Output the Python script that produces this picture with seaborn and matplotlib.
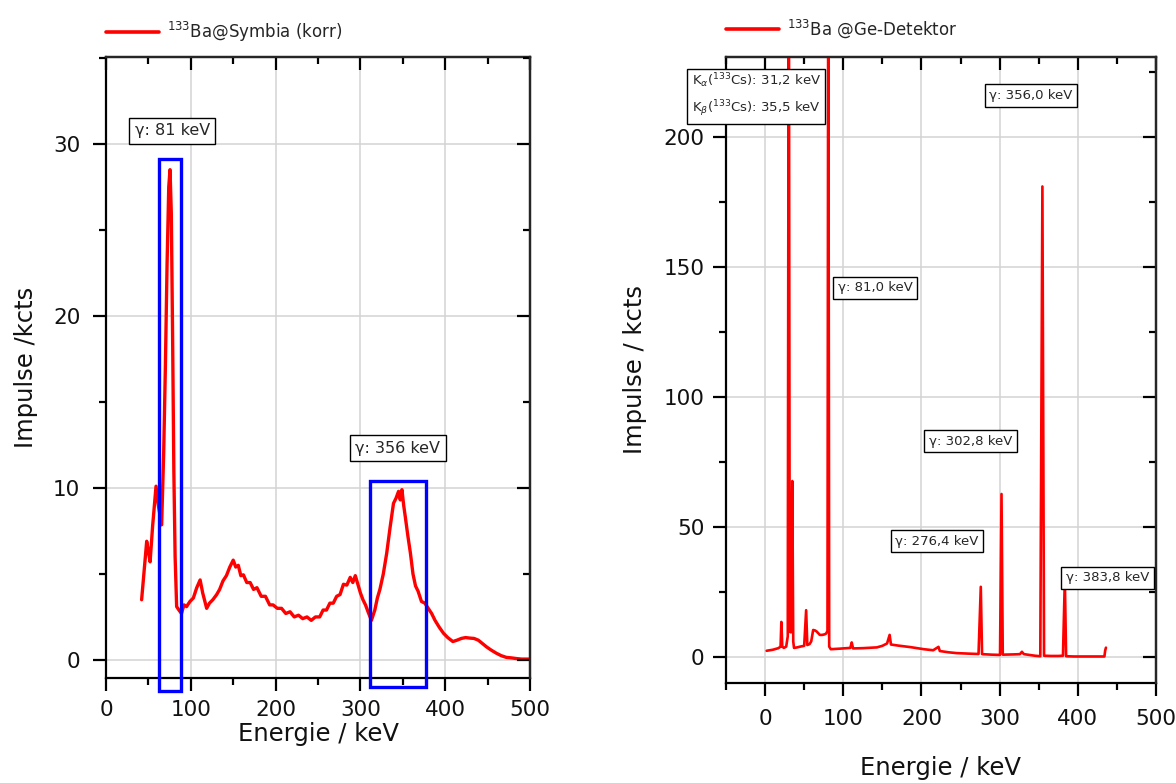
import matplotlib
matplotlib.use("Agg")
import matplotlib.pyplot as plt
import matplotlib.patches as patches
from matplotlib.ticker import MultipleLocator
import seaborn as sns
import pandas as pd

# ---------------- data ----------------
sym_energy = [42, 45, 48, 50, 52, 55, 59, 62, 65.6, 68, 70, 72, 74, 75.5, 77, 78.5, 80, 81.5, 83.3, 86,
              89, 92, 95, 99, 103, 107, 111, 114, 118.7, 122, 126, 130.5, 134, 138, 142, 146, 150, 153,
              156, 159, 162, 166, 170, 174, 178, 183, 188, 193, 197, 202, 207, 212, 217, 222, 227, 232,
              237, 242, 247, 252, 256, 260, 264, 268, 272, 276, 280, 284, 288, 291, 294, 297, 300, 303,
              306, 309, 313, 317, 320, 323, 327, 331, 335, 339, 342, 345, 347, 349, 351, 353, 356, 359,
              362, 365, 368, 372, 376, 380, 384, 388, 393, 398, 403, 409, 414, 419, 424, 429, 434, 439,
              444, 449, 454, 460, 466, 472, 478, 484, 490, 495, 500]
sym_kcts = [3.5, 5.2, 6.9, 6.3, 5.7, 7.8, 10.1, 8.9, 7.85, 12, 17, 23, 27.5, 28.5, 26, 19, 11, 6, 3.1, 2.9,
            2.7, 3.2, 3.1, 3.4, 3.6, 4.2, 4.65, 3.9, 3.0, 3.3, 3.5, 3.8, 4.1, 4.6, 4.9, 5.4, 5.8, 5.4,
            5.5, 4.9, 4.95, 4.5, 4.5, 4.1, 4.2, 3.7, 3.7, 3.2, 3.2, 3.0, 3.0, 2.7, 2.8, 2.5, 2.6, 2.4,
            2.5, 2.3, 2.5, 2.5, 2.9, 2.9, 3.3, 3.3, 3.7, 3.8, 4.4, 4.35, 4.8, 4.5, 4.9, 4.4, 3.9, 3.5,
            3.2, 2.8, 2.3, 2.9, 3.6, 4.1, 5.0, 6.2, 7.7, 9.1, 9.4, 9.8, 9.3, 9.9, 9.0, 8.3, 7.2, 6.2,
            5.0, 4.3, 4.0, 3.4, 3.3, 3.0, 2.7, 2.3, 1.9, 1.55, 1.3, 1.07, 1.15, 1.25, 1.3, 1.27, 1.25, 1.15,
            0.95, 0.75, 0.58, 0.4, 0.25, 0.15, 0.12, 0.08, 0.05, 0.05, 0.05]

ge_energy = [2, 10, 17, 19.8, 20.8, 22, 24, 27, 29, 30.3, 31.5, 33, 34.8, 36, 37, 41, 45, 50, 52.5, 54,
             57, 59, 61.5, 64, 66, 70, 73, 76, 78, 79.8, 80.8, 82, 84, 95, 109, 110.8, 112.5, 125, 143,
             150, 156, 159.3, 161, 170, 186, 203, 215, 221.8, 223.5, 235, 245, 260, 273, 275.9, 277.5,
             290, 300.5, 302.4, 304, 318, 326, 328.5, 331, 345, 352, 354.7, 356.8, 365, 375, 381, 383.4,
             385, 395, 410, 425, 434, 435, 436]
ge_kcts = [2.4, 2.8, 3.4, 4, 13.5, 4, 3.5, 4, 8, 300, 9.7, 9.5, 67.7, 6, 3.5, 3.7, 4, 4.3, 18, 4.6,
           5, 6, 10.4, 10.2, 9.8, 8.5, 8.5, 8.7, 9, 10, 280, 4, 3, 3.2, 3.5, 5.6, 3.3, 3.4, 3.7,
           4.3, 5.2, 8.5, 4.8, 4.4, 3.8, 3.0, 2.6, 3.9, 2.3, 1.8, 1.5, 1.3, 1.15, 27, 1.1,
           0.9, 0.8, 62.7, 0.9, 1.0, 1.1, 2.0, 1.1, 0.5, 0.3, 181, 0.5, 0.4, 0.4, 0.5, 30,
           0.3, 0.2, 0.2, 0.2, 0.2, 2.5, 3.6]

left_legend = r"$^{133}$Ba@Symbia (korr)"
right_legend = r"$^{133}$Ba @Ge-Detektor"
left_notes = ["γ: 81 keV", "γ: 356 keV"]
right_notes = [r"K$_\alpha$($^{133}$Cs): 31,2 keV" + "\n" + r"K$_\beta$($^{133}$Cs): 35,5 keV",
               "γ: 356,0 keV", "γ: 81,0 keV", "γ: 302,8 keV", "γ: 276,4 keV", "γ: 383,8 keV"]

# ---------------- style ----------------
sns.set_theme(style="white")
plt.rcParams['font.family'] = ['DejaVu Sans']
plt.rcParams['mathtext.fontset'] = 'dejavusans'

fig = plt.figure(figsize=(11.76, 7.83), dpi=100)
axL = fig.add_axes([106/1176, 1-678/783, 424/1176, 621/783])
axR = fig.add_axes([726/1176, 1-683/783, 430/1176, 626/783])

df_sym = pd.DataFrame({"Energie": sym_energy, "Impulse": sym_kcts})
df_ge = pd.DataFrame({"Energie": ge_energy, "Impulse": ge_kcts})

sns.lineplot(data=df_sym, x="Energie", y="Impulse", ax=axL, color="#ff0000", linewidth=2.4,
             estimator=None, sort=False, label=left_legend, zorder=3)
sns.lineplot(data=df_ge, x="Energie", y="Impulse", ax=axR, color="#ff0000", linewidth=1.9,
             estimator=None, sort=False, label=right_legend, zorder=3)

axL.set_xlim(0, 500)
axL.set_ylim(-1.05, 35.05)
axR.set_xlim(-50, 500)
axR.set_ylim(-10, 230.8)


def style_axes(ax, xmaj, xmin, ymaj, ymin, pad_x, pad_y):
    ax.xaxis.set_major_locator(MultipleLocator(xmaj))
    ax.xaxis.set_minor_locator(MultipleLocator(xmin))
    ax.yaxis.set_major_locator(MultipleLocator(ymaj))
    ax.yaxis.set_minor_locator(MultipleLocator(ymin))
    ax.grid(True, which='major', color='#d3d3d3', linewidth=1.1)
    ax.set_axisbelow(True)
    for s in ax.spines.values():
        s.set_linewidth(1.6)
        s.set_color('black')
    ax.tick_params(which='both', direction='out', bottom=True, left=True, top=False, right=False,
                   color='black', width=1.6, labelsize=15.5, labelcolor='#111111')
    ax.tick_params(which='major', length=9.5)
    ax.tick_params(which='minor', length=5)
    ax.tick_params(axis='x', pad=pad_x)
    ax.tick_params(axis='y', pad=pad_y)
    # inward ticks on top & right
    sx = ax.secondary_xaxis('top')
    sx.set_zorder(6)
    sx.xaxis.set_major_locator(MultipleLocator(xmaj))
    sx.xaxis.set_minor_locator(MultipleLocator(xmin))
    sx.tick_params(which='both', direction='in', labeltop=False, width=1.6, color='black')
    sx.tick_params(which='major', length=9.5)
    sx.tick_params(which='minor', length=5)
    sx.spines['top'].set_linewidth(1.6)
    sy = ax.secondary_yaxis('right')
    sy.set_zorder(6)
    sy.yaxis.set_major_locator(MultipleLocator(ymaj))
    sy.yaxis.set_minor_locator(MultipleLocator(ymin))
    sy.tick_params(which='both', direction='in', labelright=False, width=1.6, color='black')
    sy.tick_params(which='major', length=9.5)
    sy.tick_params(which='minor', length=5)
    sy.spines['right'].set_linewidth(1.6)


style_axes(axL, 100, 50, 10, 5, 6, 9)
style_axes(axR, 100, 50, 50, 25, 9, 6)

axL.set_xlabel("Energie / keV", fontsize=17.5, labelpad=2, color='#111111')
axL.set_ylabel("Impulse /kcts", fontsize=17.5, labelpad=11, color='#111111')
axR.set_xlabel("Energie / keV", fontsize=17.5, labelpad=20, color='#111111')
axR.set_ylabel("Impulse / kcts", fontsize=17.5, labelpad=12, color='#111111')

for ax, yoff in ((axL, 25/621), (axR, 28/626)):
    leg = ax.legend(loc='center left', bbox_to_anchor=(0.0, 1 + yoff), frameon=False,
                    fontsize=12, handlelength=3.2, handletextpad=0.45, borderpad=0, borderaxespad=0)
    for line in leg.get_lines():
        line.set_linewidth(2.6)

# blue rectangles (left)
axL.add_patch(patches.Rectangle((62, -1.8), 26, 30.9, fill=False, edgecolor='#0000ff',
                                linewidth=2.4, clip_on=False, zorder=4))
axL.add_patch(patches.Rectangle((311.5, -1.6), 65.5, 12.0, fill=False, edgecolor='#0000ff',
                                linewidth=2.4, clip_on=False, zorder=4))

box = dict(boxstyle='square,pad=0.35', facecolor='white', edgecolor='black', linewidth=1.0)
axL.text(78, 30.75, left_notes[0], fontsize=11.5, ha='center', va='center', bbox=box, zorder=5)
axL.text(344, 12.3, left_notes[1], fontsize=11.5, ha='center', va='center', bbox=box, zorder=5)

box2 = dict(boxstyle='square,pad=0.35', facecolor='white', edgecolor='black', linewidth=1.0)
axR.text(-11.5, 216, right_notes[0], fontsize=9.5, ha='center', va='center', bbox=box2,
         zorder=7, clip_on=False, linespacing=1.6)
positions = [(340, 216), (141, 142), (263, 83), (220, 44.6), (438, 30.4)]
for txt, (x, y) in zip(right_notes[1:], positions):
    axR.text(x, y, txt, fontsize=9.5, ha='center', va='center', bbox=box2, zorder=7)

fig.savefig("out.png", dpi=100)
